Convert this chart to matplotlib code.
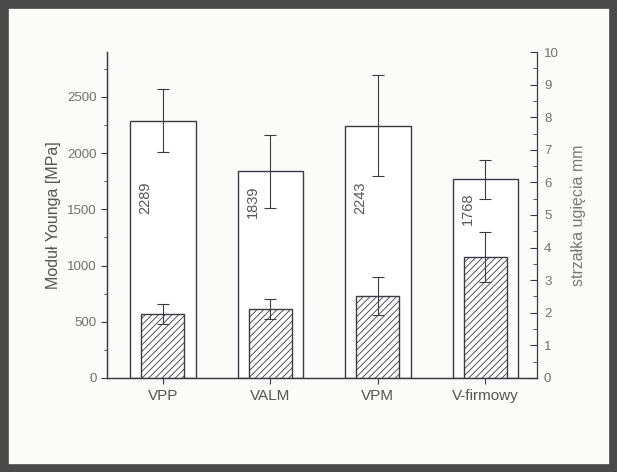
import numpy as np
import matplotlib.pyplot as plt
from matplotlib.patches import Rectangle

plt.rcParams['font.family'] = ['Liberation Sans', 'DejaVu Sans']
plt.rcParams['hatch.linewidth'] = 0.6
plt.rcParams['hatch.color'] = '#333333'

# data
categories = ['VPP', 'VALM', 'VPM', 'V-firmowy']
young = [2289, 1839, 2243, 1768]          # MPa, left axis
young_err = [280, 325, 450, 175]
deflection = [1.97, 2.12, 2.52, 3.72]     # mm, right axis
deflection_err = [0.31, 0.31, 0.59, 0.77]
label_y = [1600, 1570, 1600, 1510]        # height of the rotated value labels

line_col = '#3a3a44'
text_col = '#707070'

fig = plt.figure(figsize=(6.17, 4.72), dpi=100, facecolor='#fbfbf9')
ax = fig.add_axes([0.1734, 0.1992, 0.697, 0.6906])
ax2 = ax.twinx()

x = np.arange(len(categories))

# white bars - Young's modulus
ax.bar(x, young, width=0.61, color='white', edgecolor=line_col, linewidth=1.0, zorder=2)
ax.errorbar(x, young, yerr=young_err, fmt='none', ecolor=line_col,
            elinewidth=0.8, capsize=4.5, capthick=0.8, zorder=3)
for xi, v, ly in zip(x, young, label_y):
    ax.text(xi - 0.165, ly, str(v), rotation=90, ha='center', va='center',
            fontsize=10.5, color='#555555')

# hatched bars - deflection
ax2.bar(x, deflection, width=0.40, color='white', edgecolor=line_col,
        hatch='/////', linewidth=1.0, zorder=2)
ax2.errorbar(x, deflection, yerr=deflection_err, fmt='none', ecolor=line_col,
             elinewidth=0.8, capsize=4.5, capthick=0.8, zorder=3)

ax.set_xlim(-0.52, 3.48)
ax.set_ylim(0, 2900)
ax2.set_ylim(0, 10)

ax.set_xticks(x)
ax.set_xticklabels(categories, fontsize=11, color='#555555')
ax.set_yticks(np.arange(0, 2501, 500))
ax.set_yticks(np.arange(250, 2800, 500), minor=True)
ax2.set_yticks(np.arange(0, 11, 1))
ax2.set_yticks(np.arange(0.5, 10, 1), minor=True)

ax.tick_params(axis='x', direction='out', length=4, color=line_col, pad=4)
ax.tick_params(axis='y', which='both', direction='out', color=line_col,
               labelsize=9.5, labelcolor=text_col)
ax.tick_params(axis='y', which='major', length=4)
ax.tick_params(axis='y', which='minor', length=2.5)
ax2.tick_params(axis='y', which='both', direction='in', color=line_col,
                labelsize=9.5, labelcolor=text_col, pad=5)
ax2.tick_params(axis='y', which='major', length=5)
ax2.tick_params(axis='y', which='minor', length=3)

for a in (ax, ax2):
    a.spines['top'].set_visible(False)
    a.patch.set_visible(False)
    for s in ('left', 'right', 'bottom'):
        a.spines[s].set_color(line_col)
        a.spines[s].set_linewidth(0.9)
ax.spines['right'].set_visible(False)

ax.set_ylabel('Moduł Younga [MPa]', fontsize=11.5, color='#555555', labelpad=4)
ax2.set_ylabel('strzałka ugięcia mm', fontsize=11.5, color='#777777',
               rotation=90, labelpad=9)

# scanned page frame
fig.patches.append(Rectangle((0, 0), 1, 1, transform=fig.transFigure, fill=False,
                             edgecolor='#4a4a4a', linewidth=12))

fig.savefig('out.png', dpi=100, facecolor=fig.get_facecolor())
